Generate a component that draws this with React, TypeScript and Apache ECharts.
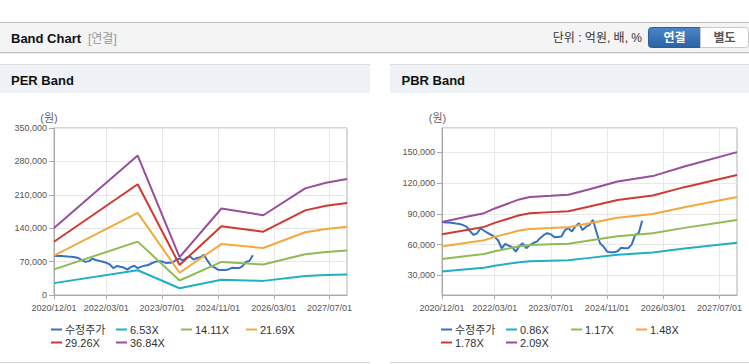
import React, { useEffect, useRef } from 'react';
import * as echarts from 'echarts';

// ---- axis categories (monthly, 2020/12 .. 2027/12) ----
const categories: string[] = [];
for (let k = 0; k <= 84; k++) {
  const y = 2020 + Math.floor((11 + k) / 12);
  const m = ((11 + k) % 12) + 1;
  categories.push(`${y}/${String(m).padStart(2, '0')}/01`);
}
const xTickLabels = ['2020/12/01', '2022/03/01', '2023/07/01', '2024/11/01', '2026/03/01', '2027/07/01'];

// ---- adjusted price (수정주가), monthly from 2020/12 ----
const priceValues = [
  82000, 81500, 81500, 81000, 80500, 80200, 79000, 77600, 73000, 69400,
  71000, 76000, 73500, 71500, 69500, 67500, 64000, 56400, 60600, 59000,
  57500, 53100, 58500, 61300, 56400, 59500, 61500, 62900, 66500, 69400,
  71100, 70000, 67200, 67500, 67800, 74000, 76000, 72700, 78000, 80900,
  74300, 77500, 79200, 84100, 72000, 61300, 58000, 53100, 52500, 52500,
  53500, 57000, 56500, 56400, 60000, 69400, 71100, 83400,
];

// ---- PER band (vertex month index + values) ----
const perIdx = [0, 24, 36, 48, 60, 72, 78, 84];
const per653 = [24900, 51800, 14100, 32100, 29600, 39600, 41700, 43100];
const per1411 = [53800, 111900, 30400, 69400, 64000, 85600, 90100, 93100];
const per2169 = [82700, 172000, 46700, 106700, 98400, 131500, 138500, 143100];
const per2926 = [111500, 232100, 63000, 144000, 132800, 177400, 186900, 193000];
const per3684 = [140400, 292200, 79300, 181300, 167200, 223400, 235300, 243000];

// ---- PBR band ----
const pbrIdx = [0, 7, 12, 15, 22, 25, 31, 36, 42, 50, 60, 69, 84];
const pbr086 = [33800, 35900, 37300, 39200, 42800, 43800, 44300, 44700, 47000, 50100, 52200, 56100, 61800];
const pbr117 = [46000, 48800, 50800, 53400, 58300, 59600, 60300, 60800, 63900, 68100, 71000, 76300, 84100];
const pbr148 = [58200, 61700, 64200, 67500, 73700, 75300, 76200, 77000, 80800, 86100, 89800, 96500, 106400];
const pbr178 = [70000, 74200, 77300, 81200, 88600, 90600, 91700, 92600, 97200, 103600, 108000, 116100, 128000];
const pbr209 = [82100, 87200, 90700, 95300, 104100, 106400, 107600, 108700, 114100, 121600, 126900, 136300, 150300];

const perNames = ['수정주가', '6.53X', '14.11X', '21.69X', '29.26X', '36.84X'];
const pbrNames = ['수정주가', '0.86X', '1.17X', '1.48X', '1.78X', '2.09X'];
const colors = ['#3671c1', '#1fb0c4', '#8fbb55', '#f3a83c', '#cf3a30', '#974f9b'];

const FONT = '"Liberation Sans", "Noto Sans CJK KR", sans-serif';

const pairs = (idx: number[], vals: number[]) => idx.map((x, i) => [x, vals[i]]);
const priceData = priceValues.map((v, i) => [i, v]);

export default function App() {
  const ref = useRef<HTMLDivElement>(null);
  useEffect(() => {
    if (!ref.current) return;
    const chart = echarts.init(ref.current, undefined, { renderer: 'svg' });
    const labelIdx = xTickLabels.map((l) => categories.indexOf(l));
    const showIdx = (i: number) => labelIdx.includes(i);

    const mkX = (gridIndex: number) => ({
      type: 'category',
      gridIndex,
      data: categories,
      boundaryGap: false,
      axisLine: { lineStyle: { color: '#aaaaaa' } },
      axisTick: { interval: showIdx, length: 4, lineStyle: { color: '#aaaaaa' } },
      axisLabel: { interval: showIdx, fontSize: 9, color: '#555', margin: 8, fontFamily: FONT },
      splitLine: { show: true, interval: showIdx, lineStyle: { color: '#e8e8e8' } },
    });
    const yCommon = {
      type: 'value',
      axisLine: { show: true, lineStyle: { color: '#aaaaaa' } },
      axisTick: { show: true, length: 5, lineStyle: { color: '#aaaaaa' } },
      splitLine: { lineStyle: { color: '#e8e8e8' } },
    };

    const mkLine = (name: string, data: any[], color: string, xi: number) => ({
      type: 'line',
      name,
      xAxisIndex: xi,
      yAxisIndex: xi,
      data,
      symbol: 'none',
      lineStyle: { width: 2, color },
      itemStyle: { color },
    });

    const perData = [priceData, pairs(perIdx, per653), pairs(perIdx, per1411), pairs(perIdx, per2169), pairs(perIdx, per2926), pairs(perIdx, per3684)];
    const pbrData = [priceData, pairs(pbrIdx, pbr086), pairs(pbrIdx, pbr117), pairs(pbrIdx, pbr148), pairs(pbrIdx, pbr178), pairs(pbrIdx, pbr209)];

    const series: any[] = [];
    perNames.forEach((n, i) => series.push(mkLine(n, perData[i], colors[i], 0)));
    pbrNames.forEach((n, i) => series.push(mkLine(n, pbrData[i], colors[i], 1)));

    const legendPos = (baseX: number) => [
      [baseX, 324], [baseX + 65, 324], [baseX + 130, 324], [baseX + 195, 324],
      [baseX, 337], [baseX + 65, 337],
    ];
    const legends: any[] = [];
    const mkLegend = (name: string, pos: number[]) => ({
      data: [name],
      left: pos[0],
      top: pos[1],
      padding: 0,
      icon: 'rect',
      itemWidth: 11,
      itemHeight: 2,
      selectedMode: false,
      textStyle: { fontSize: 11, color: '#333', fontFamily: FONT, padding: [0, 0, 0, -2] },
    });
    const pp = legendPos(51);
    perNames.forEach((n, i) => legends.push(mkLegend(n, pp[i])));
    const bp = legendPos(441);
    pbrNames.forEach((n, i) => legends.push(mkLegend(n, bp[i])));

    const graphic: any[] = [
      { type: 'rect', shape: { x: 0, y: 22, width: 749, height: 1 }, style: { fill: '#bdbdbd' } },
      { type: 'rect', shape: { x: 0, y: 23, width: 749, height: 29 }, style: { fill: '#f4f4f4' } },
      { type: 'rect', shape: { x: 0, y: 52, width: 749, height: 1 }, style: { fill: '#c4c4c4' } },
      { type: 'rect', shape: { x: 0, y: 53, width: 749, height: 1 }, style: { fill: '#e9e9e9' } },
      { type: 'text', x: 11, y: 38.5, style: { text: 'Band Chart', font: `bold 13px ${FONT}`, fill: '#111', verticalAlign: 'middle' } },
      { type: 'text', x: 88, y: 38.5, style: { text: '[연결]', font: `12px ${FONT}`, fill: '#999', verticalAlign: 'middle' } },
      { type: 'text', x: 642, y: 38, style: { text: '단위 : 억원, 배, %', font: `12px ${FONT}`, fill: '#333', align: 'right', verticalAlign: 'middle' } },
      {
        type: 'rect',
        shape: { x: 648.5, y: 27.5, width: 52, height: 20, r: [3, 0, 0, 3] },
        style: {
          fill: new echarts.graphic.LinearGradient(0, 0, 0, 1, [
            { offset: 0, color: '#4a86c9' },
            { offset: 1, color: '#2a63a6' },
          ]),
          stroke: '#2a5d9a',
          lineWidth: 1,
        },
      },
      { type: 'text', x: 674.5, y: 37.5, style: { text: '연결', font: `bold 12px ${FONT}`, fill: '#fff', align: 'center', verticalAlign: 'middle' } },
      {
        type: 'rect',
        shape: { x: 700.5, y: 27.5, width: 48, height: 20, r: [0, 3, 3, 0] },
        style: { fill: '#ffffff', stroke: '#c8c8c8', lineWidth: 1 },
      },
      { type: 'text', x: 724.5, y: 37.5, style: { text: '별도', font: `bold 12px ${FONT}`, fill: '#555', align: 'center', verticalAlign: 'middle' } },

      // PER panel
      { type: 'rect', shape: { x: 0, y: 64, width: 370, height: 1 }, style: { fill: '#dcdcdc' } },
      { type: 'rect', shape: { x: 0, y: 65, width: 370, height: 28 }, style: { fill: '#eef1f5' } },
      { type: 'text', x: 11, y: 80, style: { text: 'PER Band', font: `bold 13px ${FONT}`, fill: '#111', verticalAlign: 'middle' } },
      { type: 'rect', shape: { x: 0, y: 362, width: 370, height: 1 }, style: { fill: '#d4d4d4' } },
      { type: 'text', x: 49, y: 118, style: { text: '(원)', font: `11px ${FONT}`, fill: '#666', align: 'center', verticalAlign: 'middle' } },

      // PBR panel
      { type: 'rect', shape: { x: 390, y: 64, width: 359, height: 1 }, style: { fill: '#dcdcdc' } },
      { type: 'rect', shape: { x: 390, y: 65, width: 359, height: 28 }, style: { fill: '#eef1f5' } },
      { type: 'text', x: 401.5, y: 80, style: { text: 'PBR Band', font: `bold 13px ${FONT}`, fill: '#111', verticalAlign: 'middle' } },
      { type: 'rect', shape: { x: 390, y: 362, width: 359, height: 1 }, style: { fill: '#d4d4d4' } },
      { type: 'text', x: 437.5, y: 118, style: { text: '(원)', font: `11px ${FONT}`, fill: '#666', align: 'center', verticalAlign: 'middle' } },
    ];

    chart.setOption({
      animation: false,
      backgroundColor: '#ffffff',
      textStyle: { fontFamily: FONT },
      grid: [
        { left: 54, top: 128, width: 293, height: 167, show: true, borderColor: '#b0b0b0', borderWidth: 1, containLabel: false },
        { left: 442, top: 128, width: 295, height: 167, show: true, borderColor: '#b0b0b0', borderWidth: 1, containLabel: false },
      ],
      xAxis: [mkX(0), mkX(1)],
      yAxis: [
        {
          ...yCommon,
          gridIndex: 0,
          min: 0,
          max: 350000,
          interval: 70000,
          axisLabel: { fontSize: 9, color: '#555', margin: 7, fontFamily: FONT },
        },
        {
          ...yCommon,
          gridIndex: 1,
          min: 10720,
          max: 173900,
          splitNumber: 5,
          axisLabel: { fontSize: 9, color: '#555', margin: 7, fontFamily: FONT, showMinLabel: false, showMaxLabel: false },
        },
      ],
      legend: legends,
      graphic,
      series,
    });
    return () => chart.dispose();
  }, []);

  return <div ref={ref} style={{ position: 'absolute', left: 0, top: 0, width: 749, height: 364 }} />;
}
